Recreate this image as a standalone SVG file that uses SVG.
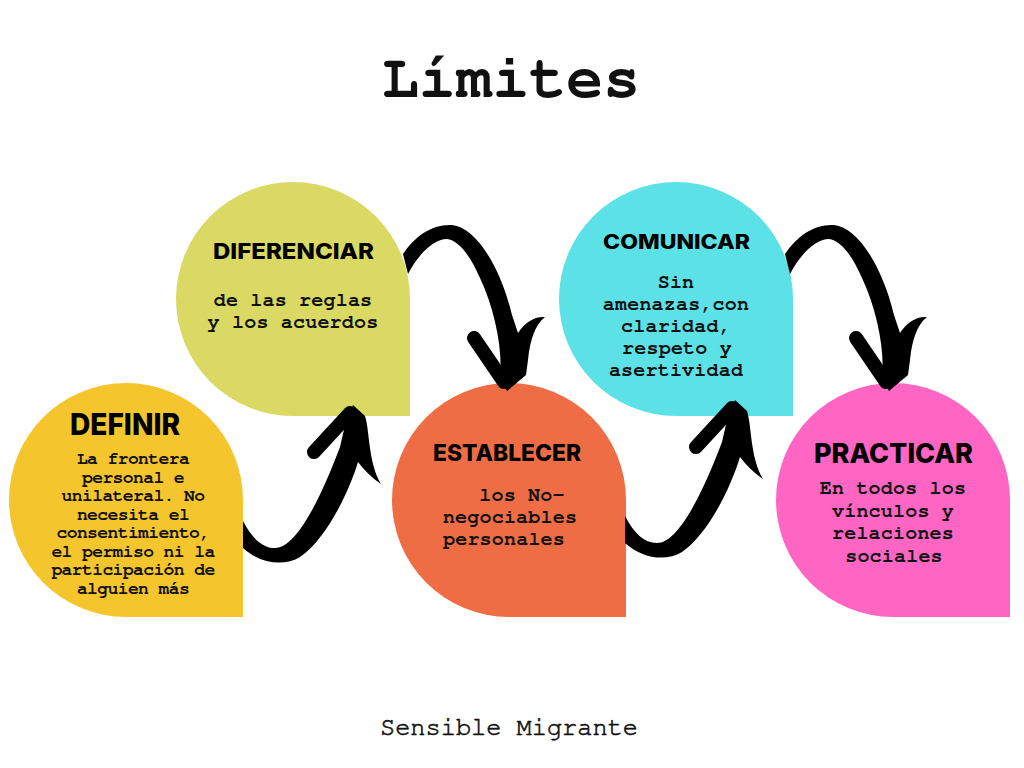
<svg xmlns="http://www.w3.org/2000/svg" xmlns:xlink="http://www.w3.org/1999/xlink" width="1024" height="768" viewBox="0 0 1024 768">
<style>
.head{font-family:Inter,"Liberation Sans",sans-serif;font-weight:800;fill:#000}
.body{font-family:"Nimbus Mono PS","FreeMono","Courier 10 Pitch","Liberation Mono",monospace;font-weight:bold;fill:#111;text-anchor:middle}
.b17{font-size:18px;letter-spacing:-0.6px}
.b19{font-size:20px;letter-spacing:0.2px}
.title{font-family:"Nimbus Mono PS","FreeMono","Courier 10 Pitch","Liberation Mono",monospace;font-weight:bold;font-size:62px;fill:#111}
.foot{font-family:"Nimbus Mono PS","FreeMono","Courier 10 Pitch","Liberation Mono",monospace;font-size:25px;fill:#111;stroke:#111;stroke-width:0.6}
.arrow{fill:#000}
.barb{fill:none;stroke:#000;stroke-width:14;stroke-linecap:round}
</style>
<defs>
<g id="arrowUp">
<path class="arrow" d="M 243 521 C 252 538, 262 548, 275 548 C 295 548, 318 505, 340 447 L 345 425 L 353 405 L 365 416 C 370 432, 368 462, 381 484 C 372 478, 364 470, 358 462 C 348 495, 325 540, 300 557 C 285 566, 262 565, 243 548 Z"/>
<line class="barb" x1="350" y1="413" x2="314" y2="452"/>
</g>
<g id="arrowDown">
<path class="arrow" d="M 403 254 C 415 236, 432 224, 452 225 C 475 227, 500 265, 512 315 L 518 333 C 525 322, 535 316, 545 317 C 535 325, 530 340, 528 360 L 526 375 L 507 391 L 500 378 C 503 350, 495 310, 480 278 C 470 255, 458 240, 447 239 C 433 239, 418 255, 408 274 Z"/>
<line class="barb" x1="474" y1="338" x2="504" y2="382"/>
</g>
</defs>
<rect width="1024" height="768" fill="#fff"/>
<text class="title" x="382" y="97" textLength="258" lengthAdjust="spacingAndGlyphs">Límites</text>

<g id="node-definir">
<path fill="#F5C52D" d="M 9 500 A 117 117 0 0 1 126 383 A 117 117 0 0 1 243 500 L 243 617 L 126 617 A 117 117 0 0 1 9 500 Z"/>
<text class="head" x="70" y="435" font-size="30" textLength="110" lengthAdjust="spacingAndGlyphs">DEFINIR</text>
<text class="body b17" x="133" y="464">La frontera</text>
<text class="body b17" x="133" y="482.5">personal e</text>
<text class="body b17" x="133" y="501">unilateral. No</text>
<text class="body b17" x="133" y="519.5">necesita el</text>
<text class="body b17" x="133" y="538">consentimiento,</text>
<text class="body b17" x="133" y="556.5">el permiso ni la</text>
<text class="body b17" x="133" y="575">participación de</text>
<text class="body b17" x="133" y="593.5">alguien más</text>
</g>

<g id="node-diferenciar">
<path fill="#D9D964" d="M 176 299 A 117 117 0 0 1 293 182 A 117 117 0 0 1 410 299 L 410 416 L 293 416 A 117 117 0 0 1 176 299 Z"/>
<text class="head" x="213" y="259" font-size="22" textLength="161" lengthAdjust="spacingAndGlyphs">DIFERENCIAR</text>
<text class="body b19" x="293" y="306">de las reglas</text>
<text class="body b19" x="293" y="328">y los acuerdos</text>
</g>

<g id="node-establecer">
<path fill="#EE6D45" d="M 392 500 A 117 117 0 0 1 509 383 A 117 117 0 0 1 626 500 L 626 617 L 509 617 A 117 117 0 0 1 392 500 Z"/>
<text class="head" x="433" y="461" font-size="23" textLength="148" lengthAdjust="spacingAndGlyphs">ESTABLECER</text>
<text class="body b19" x="522" y="501">los No-</text>
<text class="body b19" x="510" y="523">negociables</text>
<text class="body b19" x="504" y="545">personales</text>
</g>

<g id="node-comunicar">
<path fill="#5CE1E6" d="M 559 299 A 117 117 0 0 1 676 182 A 117 117 0 0 1 793 299 L 793 416 L 676 416 A 117 117 0 0 1 559 299 Z"/>
<text class="head" x="603" y="249" font-size="20" textLength="147" lengthAdjust="spacingAndGlyphs">COMUNICAR</text>
<text class="body b19" x="676" y="288">Sin</text>
<text class="body b19" x="676" y="309.5">amenazas,con</text>
<text class="body b19" x="676" y="331.5">claridad,</text>
<text class="body b19" x="677" y="353.5">respeto y</text>
<text class="body b19" x="676" y="376">asertividad</text>
</g>

<g id="node-practicar">
<path fill="#FF66C4" d="M 776 500 A 117 117 0 0 1 893 383 A 117 117 0 0 1 1010 500 L 1010 617 L 893 617 A 117 117 0 0 1 776 500 Z"/>
<text class="head" x="814" y="463" font-size="27" textLength="159" lengthAdjust="spacingAndGlyphs">PRACTICAR</text>
<text class="body b19" x="893" y="494">En todos los</text>
<text class="body b19" x="893" y="517">vínculos y</text>
<text class="body b19" x="893" y="539">relaciones</text>
<text class="body b19" x="894" y="562">sociales</text>
</g>

<g id="connectors">
<use xlink:href="#arrowUp"/>
<use xlink:href="#arrowDown"/>
<use xlink:href="#arrowUp" transform="translate(382,-5)"/>
<use xlink:href="#arrowDown" transform="translate(382,0)"/>
</g>

<text class="foot" x="380" y="735" textLength="258" lengthAdjust="spacingAndGlyphs">Sensible Migrante</text>
</svg>
